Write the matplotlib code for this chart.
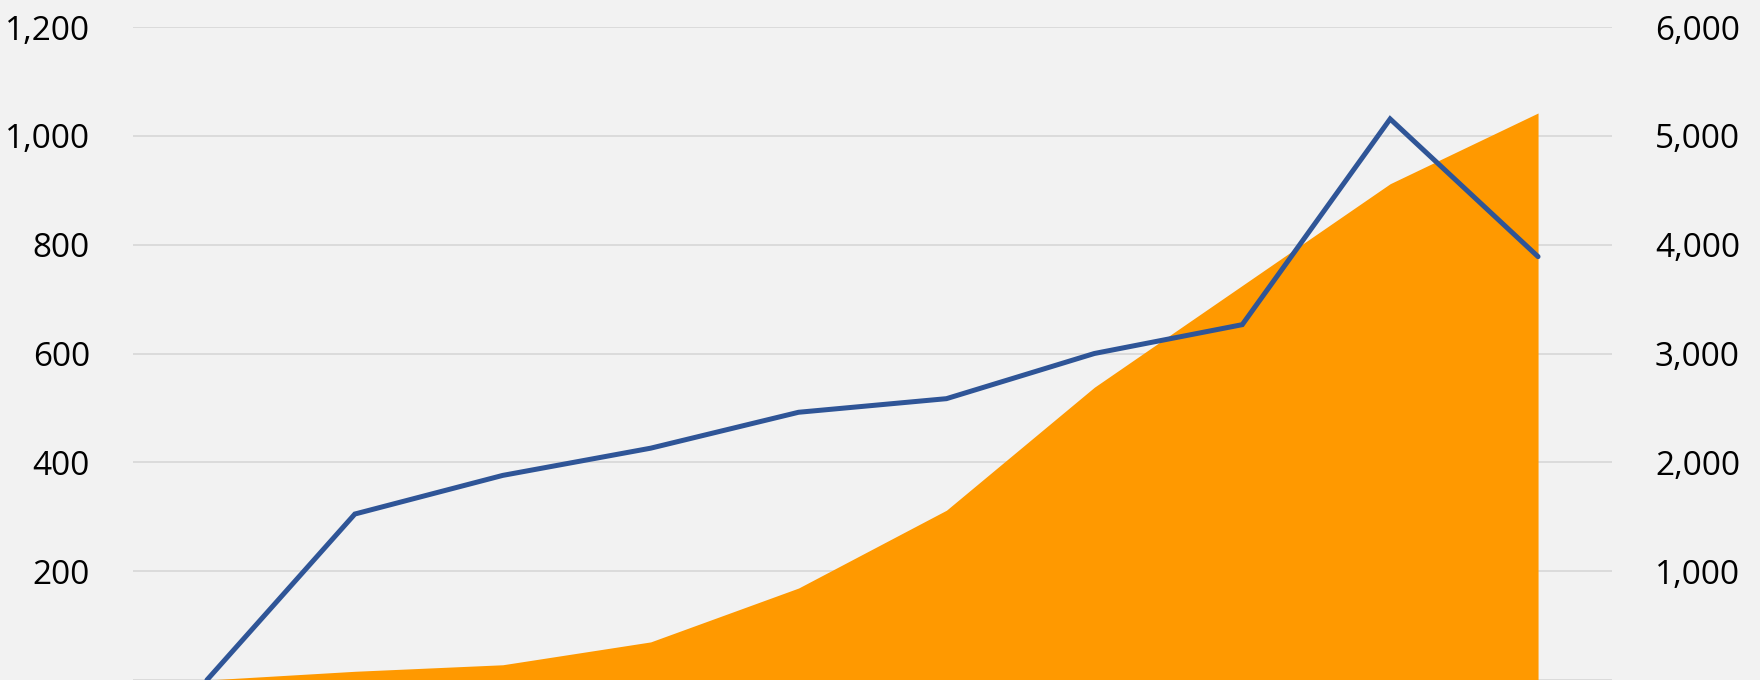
import matplotlib
matplotlib.use("Agg")
import matplotlib.pyplot as plt
from matplotlib.ticker import FuncFormatter

# ten periods, no visible category labels
periods = list(range(10))

# orange area, primary (left) axis
area_values = [0, 16, 28, 70, 169, 312, 538, 725, 912, 1042]
# blue line, secondary (right) axis
line_values = [0, 1525, 1880, 2130, 2460, 2585, 3000, 3265, 5155, 3890]

left_ticks = [0, 200, 400, 600, 800, 1000, 1200]
right_ticks = [0, 1000, 2000, 3000, 4000, 5000, 6000]

plt.rcParams['font.family'] = ['Open Sans', 'DejaVu Sans']

fig = plt.figure(figsize=(17.6, 6.8), dpi=100, facecolor='#f2f2f2')
ax = fig.add_axes([133 / 1760, 0, (1612 - 133) / 1760, 1 - 27 / 680])
ax.set_facecolor('#f2f2f2')

ax.fill_between(periods, area_values, 0, color='#ff9900', linewidth=0, zorder=2)
ax.set_ylim(0, 1200)
ax.set_xlim(-0.5, 9.5)
ax.set_yticks(left_ticks)
ax.yaxis.grid(True, color='#d9d9d9', linewidth=1.3, zorder=0)
ax.set_axisbelow(True)

ax2 = ax.twinx()
ax2.plot(periods, line_values, color='#2f5597', linewidth=3.6,
         solid_capstyle='round', solid_joinstyle='miter', zorder=3)
ax2.set_ylim(0, 6000)
ax2.set_yticks(right_ticks)

fmt = FuncFormatter(lambda v, p: '' if v == 0 else f'{v:,.0f}')
for a in (ax, ax2):
    a.yaxis.set_major_formatter(fmt)
    a.tick_params(axis='y', length=0, labelsize=24, pad=31, colors='black')
    a.set_xticks([])
    for s in a.spines.values():
        s.set_visible(False)

fig.savefig('out.png', dpi=100, facecolor='#f2f2f2')
